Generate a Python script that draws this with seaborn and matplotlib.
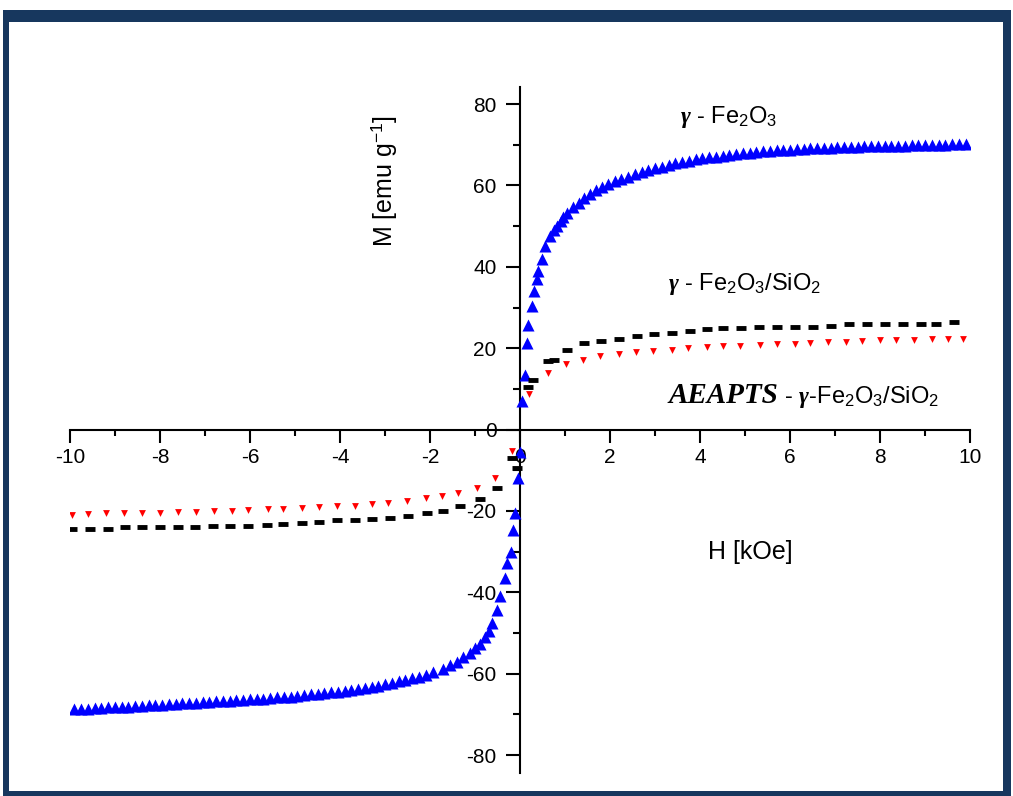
import pandas as pd
import matplotlib.pyplot as plt
import seaborn as sns
from matplotlib.patches import Rectangle
from matplotlib.ticker import MultipleLocator

# gamma-Fe2O3 (blue triangles)
h_fe = [-9.9, -9.75, -9.6, -9.45, -9.3, -9.15, -9.0, -8.85, -8.7, -8.55, -8.4, -8.25, -8.1,
        -7.95, -7.8, -7.65, -7.5, -7.35, -7.2, -7.05, -6.9, -6.75, -6.6, -6.45, -6.3, -6.15,
        -6.0, -5.85, -5.7, -5.55, -5.4, -5.25, -5.1, -4.95, -4.8, -4.65, -4.5, -4.35, -4.2,
        -4.05, -3.9, -3.75, -3.6, -3.45, -3.3, -3.15, -3.0, -2.85, -2.7, -2.55, -2.4, -2.25,
        -2.1, -1.93, -1.72, -1.56, -1.4, -1.27, -1.12, -1.0, -0.9, -0.78, -0.7, -0.62, -0.51,
        -0.44, -0.33, -0.29, -0.2, -0.16, -0.11, -0.04, -0.01,
        0.04, 0.11, 0.16, 0.18, 0.27, 0.31, 0.37, 0.40, 0.48, 0.56, 0.67, 0.75, 0.82, 0.90,
        0.96, 1.05, 1.18, 1.30, 1.42, 1.55, 1.68, 1.82, 1.95, 2.1, 2.25, 2.4, 2.55, 2.7, 2.85,
        3.0, 3.15, 3.3, 3.45, 3.6, 3.75, 3.9, 4.05, 4.2, 4.35, 4.5, 4.65, 4.8, 4.95, 5.1,
        5.25, 5.4, 5.55, 5.7, 5.85, 6.0, 6.15, 6.3, 6.45, 6.6, 6.75, 6.9, 7.05, 7.2, 7.35,
        7.5, 7.65, 7.8, 7.95, 8.1, 8.25, 8.4, 8.55, 8.7, 8.85, 9.0, 9.15, 9.3, 9.45, 9.6,
        9.75, 9.9]
m_fe = [-68.7, -68.6, -68.6, -68.5, -68.4, -68.3, -68.3, -68.2, -68.1, -68.0, -67.9, -67.8,
        -67.7, -67.6, -67.5, -67.4, -67.3, -67.2, -67.1, -67.0, -66.9, -66.8, -66.7, -66.6,
        -66.5, -66.4, -66.3, -66.2, -66.1, -66.0, -65.8, -65.7, -65.6, -65.4, -65.3, -65.1,
        -65.0, -64.8, -64.6, -64.4, -64.2, -64.0, -63.7, -63.5, -63.2, -62.9, -62.6, -62.2,
        -61.9, -61.5, -61.1, -60.7, -60.2, -59.6, -58.8, -57.9, -57.0, -55.9, -54.9, -53.7,
        -52.6, -51.0, -49.5, -47.5, -44.3, -41.0, -36.5, -32.8, -30.0, -24.6, -20.5, -11.8,
        -5.4,
        7.0, 13.3, 21.4, 25.8, 30.3, 34.0, 37.0, 39.0, 42.0, 45.0, 47.5, 49.0, 50.0, 51.3,
        52.2, 53.3, 54.6, 55.8, 56.9, 57.9, 58.8, 59.6, 60.3, 61.0, 61.6, 62.2, 62.8, 63.3,
        63.8, 64.2, 64.6, 65.0, 65.4, 65.8, 66.1, 66.4, 66.7, 66.9, 67.1, 67.3, 67.5, 67.7,
        67.9, 68.1, 68.3, 68.4, 68.5, 68.6, 68.7, 68.8, 68.9, 69.0, 69.1, 69.2, 69.2, 69.3,
        69.4, 69.4, 69.5, 69.5, 69.6, 69.6, 69.7, 69.7, 69.8, 69.8, 69.8, 69.9, 69.9, 69.9,
        70.0, 70.0, 70.0, 70.1, 70.1, 70.2]

# gamma-Fe2O3/SiO2 (black dashes)
h_si = [-9.96, -9.56, -9.16, -8.78, -8.4, -8.0, -7.6, -7.22, -6.82, -6.44, -6.04, -5.62,
        -5.27, -4.84, -4.47, -4.07, -3.67, -3.29, -2.9, -2.49, -2.07, -1.71, -1.33, -0.9,
        -0.51, -0.18, -0.07,
        0.18, 0.29, 0.62, 0.75, 1.04, 1.42, 1.8, 2.2, 2.6, 2.98, 3.38, 3.78, 4.15, 4.5, 4.9,
        5.3, 5.7, 6.1, 6.5, 6.9, 7.3, 7.7, 8.1, 8.5, 8.9, 9.25, 9.65]
m_si = [-24.5, -24.5, -24.5, -24.0, -24.0, -24.0, -24.0, -24.0, -23.8, -23.6, -23.6, -23.5,
        -23.3, -23.0, -22.8, -22.3, -22.3, -22.0, -21.8, -21.3, -20.5, -20.0, -18.7, -17.0,
        -14.4, -6.9, -9.4,
        10.5, 12.3, 16.8, 17.2, 19.5, 21.2, 21.8, 22.3, 23.0, 23.5, 23.8, 24.2, 24.7, 25.0,
        25.0, 25.1, 25.2, 25.3, 25.3, 25.5, 26.0, 26.0, 26.0, 26.0, 26.0, 26.0, 26.5]

# AEAPTS - gamma-Fe2O3/SiO2 (red)
h_ae = [-9.96, -9.6, -9.2, -8.8, -8.4, -8.0, -7.6, -7.2, -6.8, -6.4, -6.04, -5.6, -5.27,
        -4.84, -4.47, -4.07, -3.67, -3.29, -2.93, -2.51, -2.1, -1.73, -1.37, -0.96, -0.55,
        -0.18,
        0.2, 0.62, 1.02, 1.4, 1.78, 2.2, 2.58, 2.96, 3.38, 3.73, 4.15, 4.5, 4.88, 5.33, 5.7,
        6.1, 6.45, 6.85, 7.25, 7.6, 8.0, 8.35, 8.75, 9.15, 9.5, 9.85]
m_ae = [-21.0, -20.8, -20.6, -20.6, -20.5, -20.5, -20.3, -20.3, -20.0, -20.0, -19.8, -19.6,
        -19.4, -19.3, -19.1, -18.8, -18.7, -18.3, -18.0, -17.5, -16.8, -16.3, -15.6, -14.4,
        -11.9, -5.2,
        8.7, 14.0, 16.0, 17.0, 18.0, 18.5, 19.0, 19.3, 19.6, 20.0, 20.3, 20.5, 20.6, 20.8,
        21.0, 21.1, 21.3, 21.5, 21.6, 21.8, 21.9, 22.0, 22.1, 22.3, 22.3, 22.2]

sns.set_style("white")
plt.rcParams['font.family'] = ['Liberation Sans', 'DejaVu Sans']
plt.rcParams['text.color'] = 'black'
plt.rcParams['axes.labelcolor'] = 'black'
plt.rcParams['xtick.color'] = 'black'
plt.rcParams['ytick.color'] = 'black'
plt.rcParams['axes.unicode_minus'] = False
plt.rcParams['mathtext.fontset'] = 'custom'
plt.rcParams['mathtext.rm'] = 'Liberation Sans'
plt.rcParams['mathtext.it'] = 'Liberation Serif:italic:bold'
plt.rcParams['mathtext.bf'] = 'Liberation Sans:bold'

W, H = 1013, 796
fig = plt.figure(figsize=(W / 100, H / 100), dpi=100)

# navy picture frame
frame = fig.add_axes([0, 0, 1, 1])
frame.set_xlim(0, W)
frame.set_ylim(H, 0)
frame.axis('off')
navy = '#17375E'
for x0, y0, w, h in [(3, 10, 1008, 12), (3, 10, 6, 786), (1003, 10, 8, 786), (3, 791, 1008, 5)]:
    frame.add_patch(Rectangle((x0, y0), w, h, color=navy, lw=0))

ax = fig.add_axes([70 / W, 23 / H, 900 / W, 686 / H])
ax.patch.set_visible(False)

df_fe = pd.DataFrame({'H': h_fe, 'M': m_fe})
df_si = pd.DataFrame({'H': h_si, 'M': m_si})
df_ae = pd.DataFrame({'H': h_ae, 'M': m_ae})

sns.scatterplot(data=df_fe, x='H', y='M', marker='^', s=75, color='#0000FF', linewidth=0, ax=ax, zorder=3)
sns.scatterplot(data=df_si, x='H', y='M', marker='_', s=55, color='black', linewidths=3.5, ax=ax, zorder=3)
sns.scatterplot(data=df_ae, x='H', y='M', marker='v', s=24, color='#FF0000', linewidth=0, ax=ax, zorder=3)

ax.set_xlim(-10, 10)
ax.set_ylim(-84.4, 84.2)
for side in ['top', 'right']:
    ax.spines[side].set_visible(False)
ax.spines['left'].set_position(('data', 0))
ax.spines['bottom'].set_position(('data', 0))
for side in ['left', 'bottom']:
    ax.spines[side].set_color('black')
    ax.spines[side].set_linewidth(1.5)

ax.xaxis.set_major_locator(MultipleLocator(2))
ax.xaxis.set_minor_locator(MultipleLocator(1))
ax.yaxis.set_major_locator(MultipleLocator(20))
ax.yaxis.set_minor_locator(MultipleLocator(10))
ax.tick_params(axis='x', which='major', direction='out', length=9, width=1.5, labelsize=15, pad=4, bottom=True)
ax.tick_params(axis='x', which='minor', direction='out', length=4, width=1.5, bottom=True)
ax.tick_params(axis='y', which='major', direction='out', length=10, width=1.5, labelsize=15, pad=7, left=True)
ax.tick_params(axis='y', which='minor', direction='out', length=5, width=1.5, left=True)

ax.set_xlabel('H [kOe]', fontsize=18)
ax.xaxis.set_label_coords(0.756, 0.34)
ax.set_ylabel('M [emu g$^{-1}$]', fontsize=18)
ax.yaxis.set_label_coords(0.366, 0.863)

ax.text(3.56, 76.8, r'$\mathit{\gamma}$ - Fe$_2$O$_3$', fontsize=17, va='center', ha='left')
ax.text(3.29, 35.7, r'$\mathit{\gamma}$ - Fe$_2$O$_3$/SiO$_2$', fontsize=17, va='center', ha='left')

# "AEAPTS" is set larger in a serif face, the rest follows on the same baseline
t1 = ax.text(3.29, 6.6, 'AEAPTS', fontsize=21, family='Liberation Serif',
             style='italic', weight='bold', va='baseline', ha='left')
fig.canvas.draw()
bb = t1.get_window_extent()
x_end = ax.transData.inverted().transform((bb.x1, bb.y0))[0]
ax.text(x_end, 6.6, r' - $\mathit{\gamma}$-Fe$_2$O$_3$/SiO$_2$', fontsize=17, va='baseline', ha='left')

fig.savefig('out.png', dpi=100)
